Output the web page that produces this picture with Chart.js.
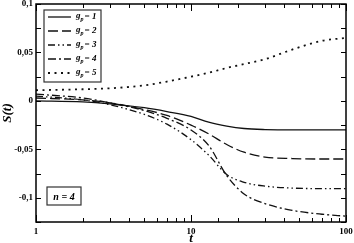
<!DOCTYPE html>
<html>
<head>
<meta charset="utf-8">
<script src="https://cdn.jsdelivr.net/npm/chart.js@4.4.0/dist/chart.umd.min.js"></script>
<style>
  html, body { margin: 0; padding: 0; background: #fff; }
  #wrap { width: 354px; height: 243px; }
</style>
</head>
<body>
<div id="wrap"><canvas id="chart" width="354" height="243"></canvas></div>
<script>
// time points (log axis) and S(t)
const tValues = [1, 2, 3, 5, 7, 10, 13, 17, 22, 30, 45, 70, 100];
const sGp1 = [0, -0.001, -0.003, -0.007, -0.011, -0.016, -0.022, -0.026, -0.0285, -0.0296, -0.03, -0.03, -0.03];
const sGp2 = [0.003, 0.001, -0.002, -0.009, -0.015, -0.025, -0.034, -0.045, -0.053, -0.058, -0.0595, -0.06, -0.06];
const sGp3 = [0.005, 0.001, -0.004, -0.014, -0.024, -0.040, -0.056, -0.076, -0.084, -0.088, -0.090, -0.0905, -0.0905];
const sGp4 = [0.007, 0.003, -0.002, -0.010, -0.018, -0.030, -0.046, -0.077, -0.096, -0.106, -0.113, -0.117, -0.119];
const sGp5 = [0.011, 0.012, 0.013, 0.016, 0.020, 0.025, 0.029, 0.034, 0.038, 0.043, 0.053, 0.062, 0.065];
const gpLabels = ['1', '2', '3', '4', '5'];
const xMajorTicks = [1, 10, 100];
const yMin = -0.125, yMax = 0.1, yStep = 0.025;
const panelLabel = 'n = 4';

const seriesValues = [sGp1, sGp2, sGp3, sGp4, sGp5];
const dashes = [[], [10, 4], [7, 3, 1.5, 3, 1.5, 3], [8, 3, 2, 3], [2, 4.5]];
const widths = [1.3, 1.3, 1.3, 1.3, 1.8];

const SERIF = '"Liberation Serif", "DejaVu Serif", serif';

const datasets = seriesValues.map((vals, i) => ({
    label: 'g_p = ' + gpLabels[i],
    data: tValues.map((t, k) => ({ x: t, y: vals[k] })),
    borderColor: '#111',
    borderWidth: widths[i],
    borderDash: dashes[i],
    pointRadius: 0,
    fill: false,
    cubicInterpolationMode: 'monotone'
}));

function line(ctx, x1, y1, x2, y2) {
    ctx.beginPath();
    ctx.moveTo(x1, y1);
    ctx.lineTo(x2, y2);
    ctx.stroke();
}

// frame + inward ticks on all four sides
const frameTicks = {
    id: 'frameTicks',
    afterDatasetsDraw(chart) {
        const { ctx, chartArea: a, scales: { x, y } } = chart;
        ctx.save();
        ctx.strokeStyle = '#000';
        ctx.lineWidth = 1;
        x.ticks.forEach(tk => {
            const px = Math.round(x.getPixelForValue(tk.value)) + 0.5;
            const len = xMajorTicks.includes(tk.value) ? 7 : 4;
            line(ctx, px, a.bottom, px, a.bottom - len);
            line(ctx, px, a.top, px, a.top + len);
        });
        y.ticks.forEach(tk => {
            const py = Math.round(y.getPixelForValue(tk.value)) + 0.5;
            line(ctx, a.left, py, a.left + 5, py);
            line(ctx, a.right, py, a.right - 5, py);
        });
        ctx.lineWidth = 1.5;
        ctx.strokeRect(a.left, a.top, a.right - a.left, a.bottom - a.top);
        ctx.restore();
    }
};

// legend box and n = 4 box inside the plot
const boxes = {
    id: 'boxes',
    afterDraw(chart) {
        const { ctx, chartArea: a } = chart;
        ctx.save();
        ctx.fillStyle = '#fff';
        ctx.strokeStyle = '#333';
        ctx.lineWidth = 1.2;
        const bx = a.left + 8, by = 10, bw = 57, bh = 72;
        ctx.fillRect(bx, by, bw, bh);
        ctx.strokeRect(bx, by, bw, bh);

        chart.data.datasets.forEach((ds, i) => {
            const cy = by + 7 + i * 14;
            ctx.strokeStyle = '#111';
            ctx.lineWidth = ds.borderWidth;
            ctx.setLineDash(ds.borderDash);
            line(ctx, bx + 4, cy, bx + 27, cy);
            ctx.setLineDash([]);
            ctx.fillStyle = '#000';
            ctx.textBaseline = 'middle';
            ctx.textAlign = 'left';
            let tx = bx + 32;
            ctx.font = 'italic bold 9px ' + SERIF;
            ctx.fillText('g', tx, cy - 1);
            tx += ctx.measureText('g').width;
            ctx.font = 'italic bold 6px ' + SERIF;
            ctx.fillText('p', tx, cy + 2);
            tx += ctx.measureText('p').width + 1;
            ctx.font = 'italic bold 9px ' + SERIF;
            ctx.fillText('= ' + gpLabels[i], tx, cy);
        });

        const nx = a.left + 11, ny = 187, nw = 34, nh = 18;
        ctx.fillStyle = '#fff';
        ctx.fillRect(nx, ny, nw, nh);
        ctx.strokeStyle = '#333';
        ctx.lineWidth = 1.2;
        ctx.strokeRect(nx, ny, nw, nh);
        ctx.fillStyle = '#000';
        ctx.font = 'italic bold 10px ' + SERIF;
        ctx.textAlign = 'center';
        ctx.textBaseline = 'middle';
        ctx.fillText(panelLabel, nx + nw / 2, ny + nh / 2 + 1);
        ctx.restore();
    }
};

new Chart(document.getElementById('chart'), {
    type: 'line',
    data: { datasets },
    options: {
        responsive: false,
        animation: false,
        devicePixelRatio: 1,
        layout: { padding: { top: 4, right: 8, left: 0, bottom: 0 } },
        plugins: { legend: { display: false }, tooltip: { enabled: false } },
        scales: {
            x: {
                type: 'logarithmic',
                min: 1,
                max: 100,
                grid: { display: false, drawTicks: false },
                border: { display: false },
                ticks: {
                    autoSkip: false,
                    maxRotation: 0,
                    padding: 4,
                    color: '#000',
                    font: { family: SERIF, size: 9, weight: 'bold' },
                    callback: v => xMajorTicks.includes(v) ? String(v) : ''
                },
                title: {
                    display: true,
                    text: 't',
                    color: '#000',
                    padding: 0,
                    font: { family: SERIF, size: 13, weight: 'bold', style: 'italic', lineHeight: 0.6 }
                },
                afterFit: s => { s.height = 21; s.paddingLeft = 0; s.paddingRight = 0; }
            },
            y: {
                min: yMin,
                max: yMax,
                grid: { display: false, drawTicks: false },
                border: { display: false },
                ticks: {
                    stepSize: yStep,
                    padding: 3,
                    color: '#000',
                    font: { family: SERIF, size: 9, weight: 'bold' },
                    callback: v => {
                        const r = Math.round(v * 1000);
                        if (r % 50 !== 0) return '';
                        return String(r / 1000).replace('.', ',');
                    }
                },
                title: {
                    display: true,
                    text: 'S(t)',
                    color: '#000',
                    padding: 0,
                    font: { family: SERIF, size: 13, weight: 'bold', style: 'italic' }
                },
                afterFit: s => { s.width = 36; s.paddingTop = 0; s.paddingBottom = 0; }
            }
        }
    },
    plugins: [frameTicks, boxes]
});
</script>
</body>
</html>
